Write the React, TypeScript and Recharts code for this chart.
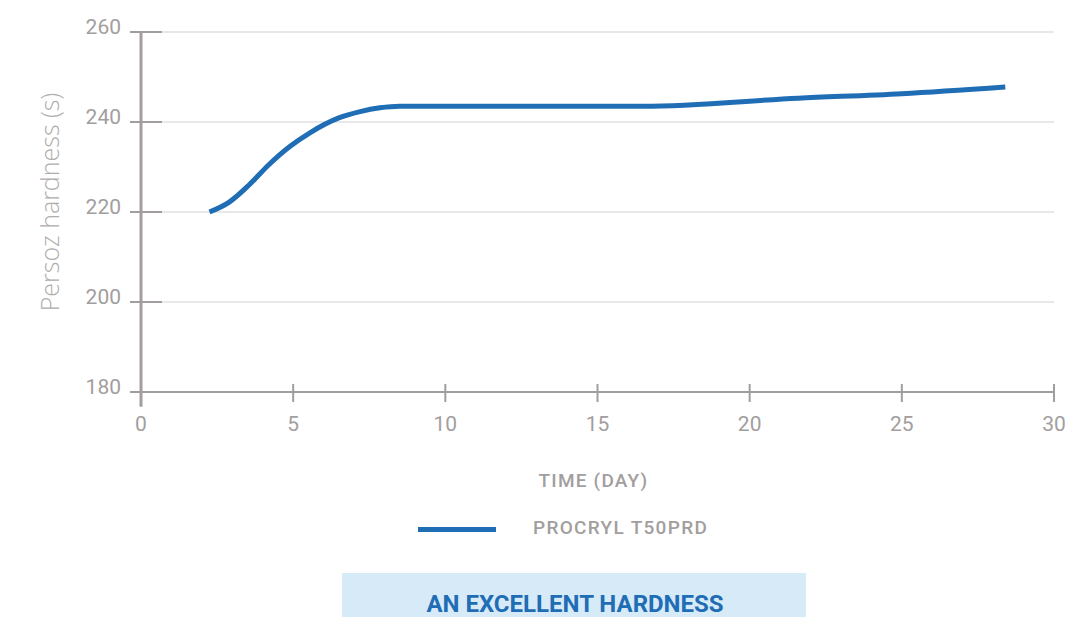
import React from 'react';
import { LineChart, Line, XAxis, YAxis, CartesianGrid, Legend, ReferenceLine } from 'recharts';

const days = [2.25, 2.9, 3.55, 4.2, 4.9, 5.55, 6.5, 7.2, 7.85, 8.5, 16.5, 21.6, 25, 28.4];
const hardness = [220, 222.2, 226, 230.5, 234.6, 237.6, 240.9, 242.3, 243.15, 243.5, 243.5, 245.3, 246.3, 247.8];
const xTicks = [0, 5, 10, 15, 20, 25, 30];
const yTicks = [180, 200, 220, 240, 260];
const seriesName = 'PROCRYL T50PRD';
const xLabel = 'TIME (DAY)';
const yLabel = 'Persoz hardness (s)';
const banner = 'AN EXCELLENT HARDNESS';

const data = days.map((d, i) => ({ day: d, value: hardness[i] }));

const AXIS = '#a29e9e';
const GRID = '#e8e8e8';
const BLUE = '#1f6db5';
const FONT = 'Roboto, "DejaVu Sans", sans-serif';

const YTick = (props: any) => {
  const { x, y, payload } = props;
  return (
    <g>
      <line x1={x - 11} x2={x + 21} y1={y} y2={y} stroke={AXIS} strokeWidth={2} />
      <text x={x - 20} y={y + 2} textAnchor="end" fill={AXIS} fontSize={21} fontFamily={FONT}>
        {payload.value}
      </text>
    </g>
  );
};

const XTick = (props: any) => {
  const { x, y, payload } = props;
  return (
    <g>
      <line x1={x} x2={x} y1={y - 8} y2={y + 10} stroke={AXIS} strokeWidth={2} />
      <text x={x} y={y + 39} textAnchor="middle" fill={AXIS} fontSize={21} fontFamily={FONT}>
        {payload.value}
      </text>
    </g>
  );
};

const LegendContent = (props: any) => {
  const item = (props.payload || [])[0];
  if (!item) return null;
  return (
    <div style={{ position: 'relative', width: 1091, height: 40 }}>
      <div style={{ position: 'absolute', left: 418, top: 15, width: 78, height: 5, background: item.color }} />
      <div
        style={{
          position: 'absolute',
          left: 533,
          top: 4,
          fontFamily: FONT,
          fontSize: 19,
          letterSpacing: 1.3,
          fontWeight: 500,
          color: AXIS,
          whiteSpace: 'nowrap',
        }}
      >
        {item.value}
      </div>
    </div>
  );
};

export default function App() {
  return (
    <div style={{ position: 'absolute', left: 0, top: 0, width: 1091, height: 617, background: '#fff', overflow: 'hidden' }}>
      <LineChart width={1091} height={617} data={data} margin={{ top: 32, right: 37, bottom: 195, left: 0 }}>
        <CartesianGrid horizontal vertical={false} stroke={GRID} strokeWidth={2} />
        <XAxis
          dataKey="day"
          type="number"
          domain={[0, 30]}
          ticks={xTicks}
          interval={0}
          height={30}
          tickSize={0}
          tickMargin={0}
          tick={<XTick />}
          axisLine={{ stroke: AXIS, strokeWidth: 2 }}
          tickLine={false}
          label={{
            content: (p: any) => {
              const vb = p.viewBox;
              return (
                <text
                  x={vb.x + vb.width / 2 - 4}
                  y={vb.y + 95}
                  textAnchor="middle"
                  fill={AXIS}
                  fontSize={19}
                  letterSpacing={1.2}
                  fontWeight={500}
                  fontFamily={FONT}
                >
                  {xLabel}
                </text>
              );
            },
          }}
        />
        <YAxis
          type="number"
          domain={[180, 260]}
          ticks={yTicks}
          interval={0}
          width={141}
          tickSize={0}
          tickMargin={0}
          tick={<YTick />}
          axisLine={false}
          tickLine={false}
          label={{
            content: (p: any) => {
              const vb = p.viewBox;
              const cx = 49;
              const cy = vb.y + vb.height / 2 - 10;
              return (
                <text
                  x={cx}
                  y={cy}
                  transform={`rotate(-90 ${cx} ${cy})`}
                  textAnchor="middle"
                  dominantBaseline="central"
                  fill="#b1adad"
                  fontSize={25}
                  fontWeight={300}
                  fontFamily='"Open Sans", Roboto, sans-serif'
                >
                  {yLabel}
                </text>
              );
            },
          }}
        />
        <ReferenceLine
          segment={[{ x: 0, y: 176.7 }, { x: 0, y: 260 }]}
          stroke={AXIS}
          strokeWidth={3}
          ifOverflow="visible"
        />
        <Legend
          layout="horizontal"
          verticalAlign="middle"
          align="center"
          wrapperStyle={{ top: 512, left: 0, width: 1091 }}
          content={<LegendContent />}
        />
        <Line
          type="monotone"
          dataKey="value"
          name={seriesName}
          stroke={BLUE}
          strokeWidth={5}
          dot={false}
          activeDot={false}
          isAnimationActive={false}
        />
      </LineChart>
      <svg style={{ position: 'absolute', left: 342, top: 573 }} width={464} height={44}>
        <rect x={0} y={0} width={464} height={44} fill="#d6eaf8" />
        <text x={233} y={39} textAnchor="middle" fill={BLUE} fontSize={24} fontWeight={700} fontFamily={FONT}>
          {banner}
        </text>
      </svg>
    </div>
  );
}
